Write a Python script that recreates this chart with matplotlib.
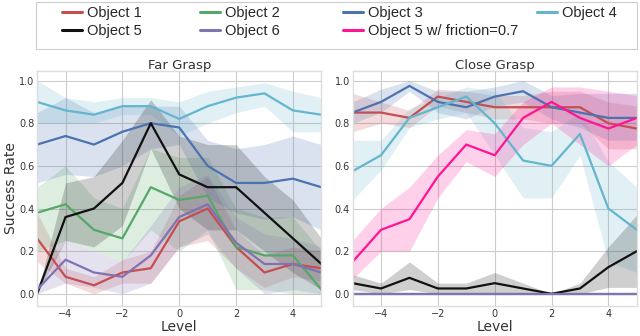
import matplotlib
matplotlib.use('Agg')
import matplotlib.pyplot as plt
import matplotlib.patches as mpatches
import seaborn as sns
import numpy as np

levels = [-5, -4, -3, -2, -1, 0, 1, 2, 3, 4, 5]

names = ['Object 1', 'Object 2', 'Object 3', 'Object 4', 'Object 5', 'Object 6',
         'Object 5 w/ friction=0.7']
colors = ['#C44E52', '#55A868', '#4C72B0', '#64B5CD', '#111111', '#8172B2', '#FF1493']

# far grasp: mean, low, high
far_mean = {
    'Object 1': [0.26, 0.08, 0.04, 0.10, 0.12, 0.34, 0.40, 0.22, 0.10, 0.14, 0.12],
    'Object 2': [0.38, 0.42, 0.30, 0.26, 0.50, 0.44, 0.46, 0.22, 0.18, 0.18, 0.02],
    'Object 3': [0.70, 0.74, 0.70, 0.76, 0.80, 0.78, 0.60, 0.52, 0.52, 0.54, 0.50],
    'Object 4': [0.90, 0.86, 0.84, 0.88, 0.88, 0.82, 0.88, 0.92, 0.94, 0.86, 0.84],
    'Object 5': [0.00, 0.36, 0.40, 0.52, 0.80, 0.56, 0.50, 0.50, 0.38, 0.26, 0.14],
    'Object 6': [0.02, 0.16, 0.10, 0.08, 0.18, 0.36, 0.42, 0.24, 0.14, 0.14, 0.10],
}
far_low = {
    'Object 1': [0.15, 0.05, 0.00, 0.05, 0.05, 0.22, 0.25, 0.12, 0.03, 0.08, 0.06],
    'Object 2': [0.20, 0.25, 0.20, 0.15, 0.30, 0.20, 0.30, 0.02, 0.02, 0.00, 0.00],
    'Object 3': [0.52, 0.56, 0.55, 0.60, 0.68, 0.70, 0.45, 0.38, 0.35, 0.36, 0.30],
    'Object 4': [0.80, 0.80, 0.80, 0.84, 0.84, 0.74, 0.80, 0.85, 0.88, 0.76, 0.76],
    'Object 5': [0.00, 0.25, 0.22, 0.32, 0.68, 0.40, 0.30, 0.30, 0.20, 0.10, 0.02],
    'Object 6': [0.00, 0.05, 0.03, 0.00, 0.05, 0.22, 0.28, 0.12, 0.00, 0.02, 0.00],
}
far_high = {
    'Object 1': [0.38, 0.12, 0.08, 0.16, 0.20, 0.46, 0.55, 0.30, 0.18, 0.22, 0.20],
    'Object 2': [0.50, 0.60, 0.45, 0.40, 0.68, 0.64, 0.64, 0.40, 0.36, 0.36, 0.20],
    'Object 3': [0.85, 0.92, 0.85, 0.88, 0.88, 0.88, 0.72, 0.68, 0.70, 0.74, 0.70],
    'Object 4': [1.00, 0.92, 0.90, 0.92, 0.92, 0.90, 0.95, 0.97, 0.99, 0.95, 0.92],
    'Object 5': [0.00, 0.52, 0.55, 0.72, 0.91, 0.74, 0.70, 0.70, 0.55, 0.44, 0.26],
    'Object 6': [0.04, 0.25, 0.20, 0.15, 0.32, 0.50, 0.56, 0.36, 0.28, 0.26, 0.22],
}

close_mean = {
    'Object 1': [0.85, 0.85, 0.825, 0.925, 0.90, 0.875, 0.875, 0.875, 0.875, 0.80, 0.775],
    'Object 2': [0.0, 0.0, 0.0, 0.0, 0.0, 0.0, 0.0, 0.0, 0.0, 0.0, 0.0],
    'Object 3': [0.85, 0.90, 0.975, 0.90, 0.875, 0.925, 0.95, 0.875, 0.85, 0.825, 0.825],
    'Object 4': [0.575, 0.65, 0.825, 0.875, 0.925, 0.80, 0.625, 0.60, 0.75, 0.40, 0.30],
    'Object 5': [0.05, 0.025, 0.075, 0.025, 0.025, 0.05, 0.025, 0.0, 0.025, 0.125, 0.20],
    'Object 6': [0.0, 0.0, 0.0, 0.0, 0.0, 0.0, 0.0, 0.0, 0.0, 0.0, 0.0],
    'Object 5 w/ friction=0.7': [0.15, 0.30, 0.35, 0.55, 0.70, 0.65, 0.825, 0.90, 0.825, 0.775, 0.825],
}
close_low = {
    'Object 1': [0.76, 0.80, 0.78, 0.88, 0.85, 0.82, 0.82, 0.80, 0.80, 0.68, 0.68],
    'Object 2': [0.0, 0.0, 0.0, 0.0, 0.0, 0.0, 0.0, 0.0, 0.0, 0.0, 0.0],
    'Object 3': [0.80, 0.85, 0.95, 0.85, 0.82, 0.88, 0.90, 0.82, 0.78, 0.72, 0.72],
    'Object 4': [0.44, 0.58, 0.78, 0.82, 0.85, 0.65, 0.45, 0.45, 0.65, 0.15, 0.10],
    'Object 5': [0.02, 0.00, 0.02, 0.00, 0.00, 0.00, 0.00, 0.00, 0.00, 0.03, 0.03],
    'Object 6': [0.0, 0.0, 0.0, 0.0, 0.0, 0.0, 0.0, 0.0, 0.0, 0.0, 0.0],
    'Object 5 w/ friction=0.7': [0.07, 0.20, 0.20, 0.45, 0.62, 0.55, 0.70, 0.80, 0.70, 0.60, 0.70],
}
close_high = {
    'Object 1': [0.94, 0.90, 0.86, 0.96, 0.95, 0.93, 0.93, 0.95, 0.95, 0.90, 0.88],
    'Object 2': [0.0, 0.0, 0.0, 0.0, 0.0, 0.0, 0.0, 0.0, 0.0, 0.0, 0.0],
    'Object 3': [0.90, 0.96, 1.00, 0.95, 0.95, 0.97, 1.00, 0.93, 0.94, 0.94, 0.94],
    'Object 4': [0.72, 0.72, 0.87, 0.92, 0.97, 0.95, 0.78, 0.76, 0.85, 0.62, 0.50],
    'Object 5': [0.09, 0.05, 0.15, 0.05, 0.05, 0.10, 0.05, 0.00, 0.05, 0.22, 0.37],
    'Object 6': [0.0, 0.0, 0.0, 0.0, 0.0, 0.0, 0.0, 0.0, 0.0, 0.0, 0.0],
    'Object 5 w/ friction=0.7': [0.25, 0.40, 0.50, 0.65, 0.77, 0.75, 0.90, 0.97, 0.97, 0.95, 0.93],
}

# legend columns as in the picture
legend_cols = [['Object 1', 'Object 5'], ['Object 2', 'Object 6'],
               ['Object 3', 'Object 5 w/ friction=0.7'], ['Object 4']]

sns.set_theme(style='whitegrid', context='paper')
plt.rcParams['font.family'] = ['DejaVu Sans']

fig, axes = plt.subplots(1, 2, figsize=(6.4, 3.36), dpi=100)
fig.subplots_adjust(left=0.058, right=0.995, bottom=0.09, top=0.79, wspace=0.11)

handles = {}
for ax, mean, low, high, title in [(axes[0], far_mean, far_low, far_high, 'Far Grasp'),
                                   (axes[1], close_mean, close_low, close_high, 'Close Grasp')]:
    for name, c in zip(names, colors):
        if name not in mean:
            continue
        ax.fill_between(levels, low[name], high[name], color=c, alpha=0.2, linewidth=0)
        ln, = ax.plot(levels, mean[name], color=c, lw=1.6)
        handles[name] = ln
    ax.set_xlim(-5, 5)
    ax.set_ylim(-0.056, 1.047)
    ax.set_xticks([-4, -2, 0, 2, 4])
    ax.set_yticks([0, 0.2, 0.4, 0.6, 0.8, 1.0])
    ax.set_title(title, fontsize=9.5, color='#333333', pad=1)
    ax.set_xlabel('Level', fontsize=10, labelpad=1, color='#333333')
    ax.tick_params(labelsize=7, pad=2, colors='#333333', length=0)
    for s in ax.spines.values():
        s.set_color('#dddddd')
axes[0].set_ylabel('Success Rate', fontsize=10, color='#333333', labelpad=1)

# legend frame + one legend per column
fig.patches.append(mpatches.Rectangle((36 / 640, 1 - 49 / 336), 601 / 640, 47 / 336,
                                      transform=fig.transFigure, fill=False,
                                      edgecolor='#cccccc', linewidth=0.8))
col_x = [62, 200, 343, 537]
for x, col in zip(col_x, legend_cols):
    leg = fig.legend([handles[n] for n in col], col, loc='upper left',
                     bbox_to_anchor=(x / 640, 1 - 6 / 336), frameon=False,
                     handlelength=1.4, handletextpad=0.3, borderpad=0,
                     borderaxespad=0, labelspacing=0.3,
                     prop={'family': 'Liberation Sans', 'size': 10.5})
    for l in leg.get_lines():
        l.set_linewidth(2.2)

plt.savefig('out.png', dpi=100)
